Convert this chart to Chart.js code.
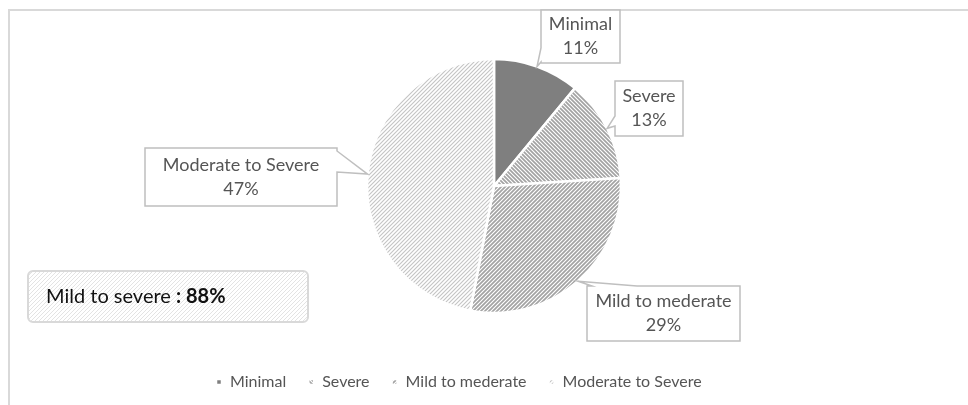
<!DOCTYPE html>
<html>
<head>
<meta charset="utf-8">
<script src="https://cdn.jsdelivr.net/npm/chart.js@4.4.1/dist/chart.umd.min.js"></script>
<style>
  html, body { margin: 0; padding: 0; background: #fff; }
</style>
</head>
<body>
<canvas id="severityPie" width="968" height="405"></canvas>
<script>
const categories = ['Minimal', 'Severe', 'Mild to mederate', 'Moderate to Severe'];
const shares = [11, 13, 29, 47]; // percent of patients
const summaryLabel = 'Mild to severe ';
const summaryValue = ': 88%';

// callout boxes: [x, y, w, h], which side the pointer leaves from, and the pointer base along that side
const callouts = [
    { box: [541, 10, 79, 53], side: 'left', base: [38, 52] },
    { box: [615, 81, 68, 55], side: 'left', base: [35, 45] },
    { box: [587, 286, 153, 55], side: 'top', base: [5, 50] },
    { box: [145, 148, 192, 58], side: 'right', base: [3, 24] }
];

function stripes(color, width, dir) {
    const s = 4;
    const c = document.createElement('canvas');
    c.width = s; c.height = s;
    const g = c.getContext('2d');
    g.fillStyle = '#fff';
    g.fillRect(0, 0, s, s);
    g.strokeStyle = color;
    g.lineWidth = width;
    g.beginPath();
    for (let k = -1; k <= 1; k++) {
        if (dir === 'up') {
            g.moveTo(k * s - 1, s + 1); g.lineTo(k * s + s + 1, -1);
        } else {
            g.moveTo(k * s - 1, -1); g.lineTo(k * s + s + 1, s + 1);
        }
    }
    g.stroke();
    return g.createPattern(c, 'repeat');
}

const fills = [
    '#7f7f7f',
    stripes('#a3a3a3', 1.7, 'down'),
    stripes('#a3a3a3', 1.7, 'up'),
    stripes('#c4c4c4', 1.1, 'up')
];
const summaryFill = stripes('#e3e3e3', 1, 'up');

const framePlugin = {
    id: 'frame',
    beforeDraw(chart) {
        const c = chart.ctx;
        c.save();
        c.strokeStyle = '#d9d9d9';
        c.lineWidth = 2;
        c.beginPath();
        c.moveTo(8, 10); c.lineTo(968, 10);
        c.moveTo(9, 10); c.lineTo(9, 405);
        c.stroke();
        c.restore();
    }
};

const calloutPlugin = {
    id: 'callouts',
    afterDatasetsDraw(chart) {
        const c = chart.ctx;
        const meta = chart.getDatasetMeta(0);
        meta.data.forEach((arc, i) => {
            const p = arc.getProps(['x', 'y', 'startAngle', 'endAngle', 'outerRadius'], true);
            const mid = (p.startAngle + p.endAngle) / 2;
            const tip = [p.x + Math.cos(mid) * p.outerRadius, p.y + Math.sin(mid) * p.outerRadius];
            const co = callouts[i];
            const [x, y, w, h] = co.box;
            const [a, b] = co.base;
            let pts = [];
            pts.push([x, y]);
            if (co.side === 'top') pts.push([x + a, y], tip, [x + b, y]);
            pts.push([x + w, y]);
            if (co.side === 'right') pts.push([x + w, y + a], tip, [x + w, y + b]);
            pts.push([x + w, y + h]);
            if (co.side === 'bottom') pts.push([x + b, y + h], tip, [x + a, y + h]);
            pts.push([x, y + h]);
            if (co.side === 'left') pts.push([x, y + b], tip, [x, y + a]);

            c.save();
            c.beginPath();
            pts.forEach((pt, k) => k ? c.lineTo(pt[0], pt[1]) : c.moveTo(pt[0], pt[1]));
            c.closePath();
            c.fillStyle = '#fff';
            c.fill();
            c.strokeStyle = '#bfbfbf';
            c.lineWidth = 1.5;
            c.stroke();

            c.fillStyle = '#555555';
            c.font = '18px Lato';
            c.textAlign = 'center';
            c.textBaseline = 'middle';
            const cx = x + w / 2, cy = y + h / 2;
            c.fillText(chart.data.labels[i], cx, cy - 12);
            c.fillText(chart.data.datasets[0].data[i] + '%', cx, cy + 12);
            c.restore();
        });
    }
};

const summaryPlugin = {
    id: 'summary',
    afterDraw(chart) {
        const c = chart.ctx;
        c.save();
        c.beginPath();
        c.roundRect(28, 271, 280, 51, 5);
        c.fillStyle = summaryFill;
        c.fill();
        c.strokeStyle = '#d9d9d9';
        c.lineWidth = 2;
        c.stroke();
        c.fillStyle = '#111';
        c.textBaseline = 'middle';
        c.font = '20px Lato';
        c.fillText(summaryLabel, 46, 297);
        const w = c.measureText(summaryLabel).width;
        c.font = 'bold 20px Lato';
        c.fillText(summaryValue, 46 + w, 297);
        c.restore();
    }
};

const ctx = document.getElementById('severityPie').getContext('2d');
const severityPie = new Chart(ctx, {
    type: 'pie',
    data: {
        labels: categories,
        datasets: [{
            data: shares,
            backgroundColor: fills,
            borderColor: '#ffffff',
            borderWidth: 2.5
        }]
    },
    options: {
        responsive: false,
        animation: false,
        radius: 127,
        layout: {
            padding: { top: 20, bottom: 5, left: 194, right: 174 }
        },
        plugins: {
            legend: {
                position: 'bottom',
                align: 'start',
                maxHeight: 50,
                labels: {
                    boxWidth: 6,
                    boxHeight: 6,
                    padding: 22,
                    color: '#555555',
                    font: { family: 'Lato', size: 16 }
                }
            },
            tooltip: { enabled: false }
        }
    },
    plugins: [framePlugin, calloutPlugin, summaryPlugin]
});
</script>
</body>
</html>
